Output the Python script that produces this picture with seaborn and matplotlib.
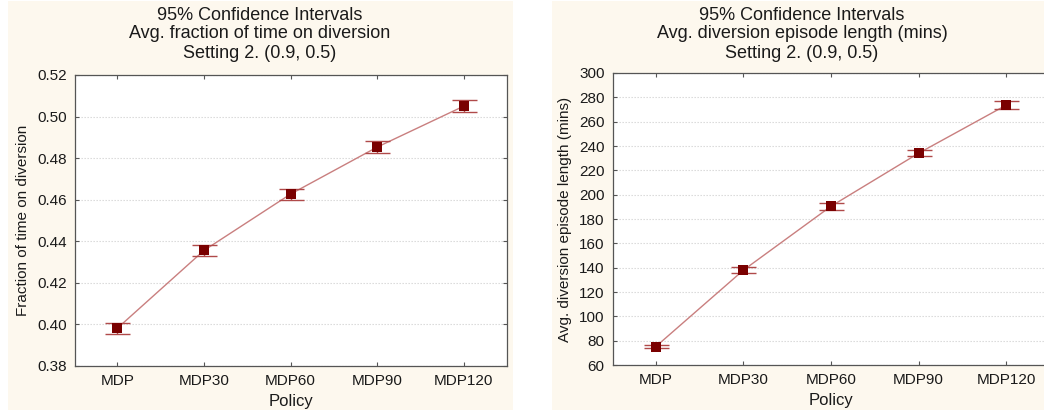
import numpy as np
import pandas as pd
import matplotlib
matplotlib.use("Agg")
import matplotlib.pyplot as plt
from matplotlib.patches import Rectangle
import seaborn as sns

policies = ["MDP", "MDP30", "MDP60", "MDP90", "MDP120"]

frac_mean = [0.3982, 0.4356, 0.4627, 0.4853, 0.5050]
frac_half = [0.0027, 0.0027, 0.0026, 0.0030, 0.0028]

len_mean = [75.2, 138.0, 190.5, 234.1, 273.6]
len_half = [1.6, 2.2, 2.7, 2.6, 3.1]

titles_left = ["95% Confidence Intervals", "Avg. fraction of time on diversion",
               "Setting 2. (0.9, 0.5)"]
titles_right = ["95% Confidence Intervals", "Avg. diversion episode length (mins)",
                "Setting 2. (0.9, 0.5)"]

sns.set_theme(style="white")
plt.rcParams["font.family"] = ["Liberation Sans", "DejaVu Sans"]

W, H = 1044, 411
fig = plt.figure(figsize=(W / 100, H / 100), dpi=100, facecolor="white")

panel_bg = "#fdf8ee"
for x0, x1 in [(8, 513), (552, 1044)]:
    fig.patches.append(Rectangle((x0 / W, 1 / H), (x1 - x0) / W, (410 - 1) / H,
                                 transform=fig.transFigure, facecolor=panel_bg,
                                 edgecolor="none", zorder=-5))

line_col = "#c97f7f"
bar_col = "#b04a4a"
mark_col = "#7a0000"
text_col = "#1a1a1a"


def panel(rect, means, halves, ylim, yticks, fmt, ylabel):
    ax = fig.add_axes(rect)
    ax.set_facecolor("white")
    df = pd.DataFrame({"policy": policies, "value": means, "x": np.arange(len(policies))})
    sns.lineplot(data=df, x="x", y="value", ax=ax, color=line_col, lw=1.0, zorder=2)
    ax.errorbar(df["x"], df["value"], yerr=halves, fmt="none", ecolor=bar_col,
                elinewidth=1.0, capsize=9, capthick=1.0, zorder=3)
    sns.scatterplot(data=df, x="x", y="value", ax=ax, marker="s", s=48,
                    color=mark_col, edgecolor=mark_col, linewidth=0, zorder=4)
    ax.set_xlim(-0.49, 4.5)
    ax.set_ylim(*ylim)
    ax.set_xticks(range(len(policies)))
    ax.set_xticklabels(policies)
    ax.set_yticks(yticks)
    ax.set_yticklabels([fmt.format(v) for v in yticks])
    ax.yaxis.grid(True, linestyle=(0, (1.2, 1.5)), color="#d6d6d6", lw=0.8)
    ax.set_axisbelow(True)
    ax.tick_params(axis="both", which="both", direction="in", length=3, width=0.8,
                   color="#555555", labelsize=11, labelcolor=text_col,
                   top=True, right=True, bottom=True, left=True, pad=6)
    for s in ax.spines.values():
        s.set_color("#555555")
        s.set_linewidth(0.9)
    ax.set_xlabel("Policy", fontsize=12, color=text_col, labelpad=4)
    ax.set_ylabel(ylabel, fontsize=11, color=text_col, labelpad=5)
    return ax


panel([75 / W, (H - 366) / H, (507 - 75) / W, (366 - 75) / H],
      frac_mean, frac_half, (0.38, 0.52),
      [0.38, 0.40, 0.42, 0.44, 0.46, 0.48, 0.50, 0.52], "{:.2f}",
      "Fraction of time on diversion")

panel([613 / W, (H - 365) / H, (1050 - 613) / W, (365 - 73) / H],
      len_mean, len_half, (60, 300),
      list(range(60, 301, 20)), "{:d}",
      "Avg. diversion episode length (mins)")

for tx, lines in [(260, titles_left), (802, titles_right)]:
    for i, t in enumerate(lines):
        fig.text(tx / W, 1 - (15 + 19 * i) / H, t, ha="center", va="center",
                 fontsize=13, color=text_col)

fig.savefig("out.png", dpi=100, facecolor=fig.get_facecolor())
